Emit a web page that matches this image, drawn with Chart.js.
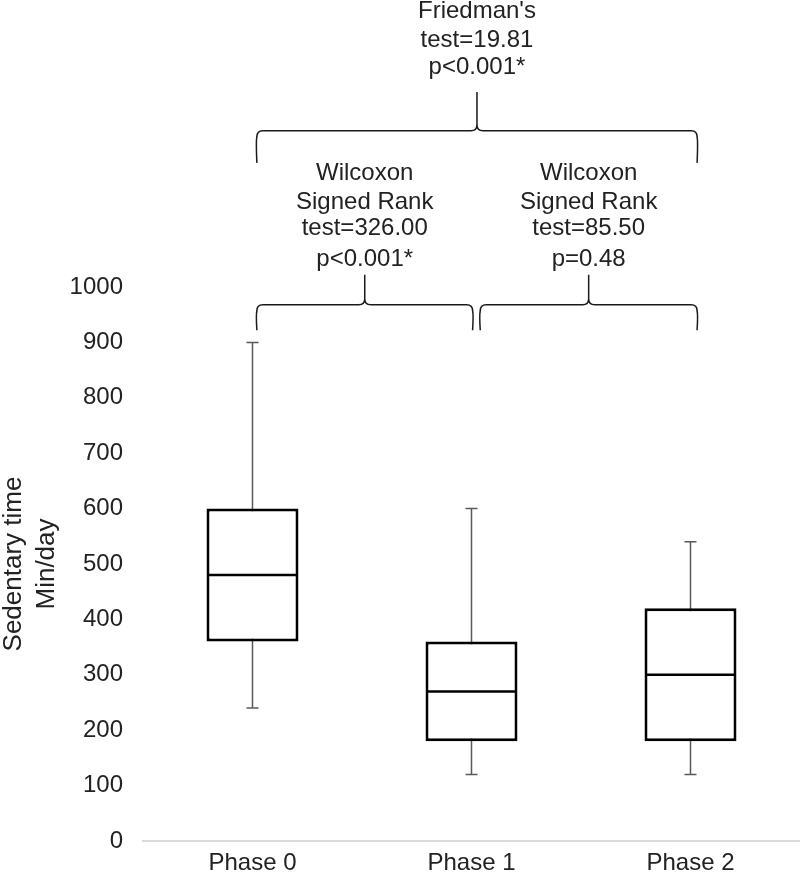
<!DOCTYPE html>
<html>
<head>
<meta charset="utf-8">
<script src="https://cdn.jsdelivr.net/npm/chart.js@4.4.1/dist/chart.umd.min.js"></script>
<style>
  html, body { margin: 0; padding: 0; background: #fff; }
  #wrap { width: 800px; height: 879px; }
</style>
</head>
<body>
<div id="wrap"><canvas id="boxChart"></canvas></div>
<script>
// box plot values (min/day)
const phases = ['Phase 0', 'Phase 1', 'Phase 2'];
const whiskerMin = [240, 120, 120];
const q1 = [360, 180, 180];
const median = [480, 270, 300];
const q3 = [600, 360, 420];
const whiskerMax = [900, 600, 540];

// y axis
const yMin = 0;
const yMax = 1000;
const yStep = 100;
const yTitle = ['Sedentary time', 'Min/day'];

// brackets above the boxes (x in category units, y in axis units)
const braceFrom = [0.02, 0.02, 1.04];
const braceTo = [2.03, 1.005, 2.03];
const braceTip = [1224, 922, 922];
const braceBar = [1282, 968, 968];
const bracePeak = [1352, 1022, 1022];
const noteText = [
    ["Friedman's", 'test=19.81', 'p<0.001*'],
    ['Wilcoxon', 'Signed Rank', 'test=326.00', 'p<0.001*'],
    ['Wilcoxon', 'Signed Rank', 'test=85.50', 'p=0.48']
];
const noteY = [
    [1498, 1446, 1397],
    [1206, 1153, 1105, 1049],
    [1206, 1153, 1105, 1049]
];

const FONT = "'Liberation Sans', Arial, sans-serif";
const TEXT_COL = '#222';

function drawBrace(ctx, x1, x2, xm, yTip, yBar, yPeak) {
    const r = 6;
    ctx.beginPath();
    ctx.moveTo(x1, yTip);
    ctx.quadraticCurveTo(x1 - 1, yBar + r + 4, x1, yBar + r);
    ctx.quadraticCurveTo(x1, yBar, x1 + r, yBar);
    ctx.lineTo(xm - r, yBar);
    ctx.quadraticCurveTo(xm, yBar, xm, yBar - r);
    ctx.lineTo(xm, yPeak);
    ctx.moveTo(xm, yBar - r);
    ctx.quadraticCurveTo(xm, yBar, xm + r, yBar);
    ctx.lineTo(x2 - r, yBar);
    ctx.quadraticCurveTo(x2, yBar, x2, yBar + r);
    ctx.quadraticCurveTo(x2 + 1, yBar + r + 4, x2, yTip);
    ctx.stroke();
}

// whiskers go under the boxes, medians on top
const boxExtras = {
    id: 'boxExtras',
    beforeDatasetsDraw(chart) {
        const { ctx, scales: { x, y } } = chart;
        ctx.save();
        ctx.strokeStyle = '#595959';
        ctx.lineWidth = 1.5;
        for (let i = 0; i < phases.length; i++) {
            const cx = x.getPixelForValue(i);
            const top = y.getPixelForValue(whiskerMax[i]);
            const bot = y.getPixelForValue(whiskerMin[i]);
            ctx.beginPath();
            ctx.moveTo(cx, top); ctx.lineTo(cx, bot);
            ctx.moveTo(cx - 6, top); ctx.lineTo(cx + 6, top);
            ctx.moveTo(cx - 6, bot); ctx.lineTo(cx + 6, bot);
            ctx.stroke();
        }
        ctx.restore();
    },
    afterDatasetsDraw(chart) {
        const { ctx, scales: { y } } = chart;
        const bars = chart.getDatasetMeta(0).data;
        ctx.save();
        ctx.strokeStyle = '#000';
        ctx.lineWidth = 2.5;
        bars.forEach((bar, i) => {
            const my = y.getPixelForValue(median[i]);
            ctx.beginPath();
            ctx.moveTo(bar.x - bar.width / 2 + 2, my);
            ctx.lineTo(bar.x + bar.width / 2 - 2, my);
            ctx.stroke();
        });
        ctx.restore();
    },
    afterDraw(chart) {
        const { ctx, scales: { x, y } } = chart;
        ctx.save();
        ctx.strokeStyle = '#1a1a1a';
        ctx.lineWidth = 1.5;
        for (let i = 0; i < braceFrom.length; i++) {
            const x1 = x.getPixelForValue(braceFrom[i]);
            const x2 = x.getPixelForValue(braceTo[i]);
            const xm = (x1 + x2) / 2;
            drawBrace(ctx, x1, x2, xm, y.getPixelForValue(braceTip[i]),
                y.getPixelForValue(braceBar[i]), y.getPixelForValue(bracePeak[i]));

            ctx.fillStyle = TEXT_COL;
            ctx.font = '24px ' + FONT;
            ctx.textAlign = 'center';
            ctx.textBaseline = 'middle';
            noteText[i].forEach((line, j) => {
                ctx.fillText(line, xm, y.getPixelForValue(noteY[i][j]));
            });
        }
        ctx.restore();
    }
};

const ctx = document.getElementById('boxChart').getContext('2d');
new Chart(ctx, {
    type: 'bar',
    data: {
        labels: phases,
        datasets: [{
            data: phases.map((p, i) => [q1[i], q3[i]]),
            backgroundColor: '#fff',
            borderColor: '#000',
            borderWidth: 3,
            borderSkipped: false,
            barPercentage: 0.42,
            categoryPercentage: 1
        }]
    },
    options: {
        responsive: true,
        maintainAspectRatio: false,
        animation: false,
        layout: { padding: { top: 287, right: 0, bottom: 2, left: 0 } },
        plugins: { legend: { display: false }, tooltip: { enabled: false } },
        scales: {
            x: {
                afterFit: (scale) => { scale.height = 36; },
                grid: { display: false, drawTicks: false },
                border: { display: true, color: '#d9d9d9', width: 2 },
                ticks: { color: TEXT_COL, padding: 8, font: { family: FONT, size: 24 } }
            },
            y: {
                min: yMin, max: yMax,
                afterFit: (scale) => { scale.width = 143; },
                grid: { display: false, drawTicks: false },
                border: { display: false },
                ticks: {
                    stepSize: yStep, color: TEXT_COL, padding: 20,
                    font: { family: FONT, size: 24 },
                    callback: (v) => String(v)
                },
                title: {
                    display: true, text: yTitle, color: TEXT_COL,
                    padding: { top: -2, bottom: 0 },
                    font: { family: FONT, size: 26, lineHeight: 1.25 }
                }
            }
        }
    },
    plugins: [boxExtras]
});
</script>
</body>
</html>
